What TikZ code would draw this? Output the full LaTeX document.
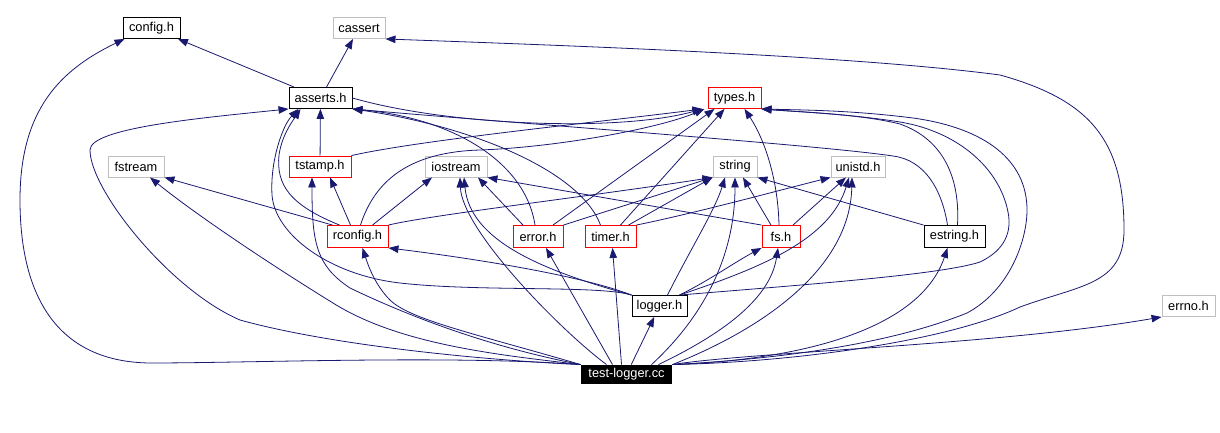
\documentclass[tikz,border=0pt]{standalone}
\usepackage{fontspec}
\setmainfont{Liberation Sans}
\usetikzlibrary{arrows.meta,calc}
\definecolor{edgec}{HTML}{191970}
\definecolor{grayb}{HTML}{BFBFBF}
\begin{document}
\begin{tikzpicture}[x=1pt,y=-1pt,
  bx/.style={rectangle, inner sep=0pt, minimum height=21pt, line width=0.9pt, fill=white, font=\fontsize{12.8}{14}\selectfont},
  blk/.style={bx, draw=black},
  rd/.style={bx, draw=red},
  gr/.style={bx, draw=grayb},
  e/.style={draw=edgec, line width=0.8pt, -{Triangle[length=10pt,width=7.5pt]}}]
\useasboundingbox (0,0) rectangle (1220,432);
% nodes
\node[blk, minimum width=57pt] (config) at (151.5,28) {config.h};
\node[gr, minimum width=52pt] (cassert) at (359,28) {cassert};
\node[blk, minimum width=63pt] (asserts) at (320.5,98) {asserts.h};
\node[rd, minimum width=53pt] (types) at (734.5,98) {types.h};
\node[gr, minimum width=56pt] (fstream) at (136,166.5) {fstream};
\node[rd, minimum width=62pt] (tstamp) at (320,166.5) {tstamp.h};
\node[gr, minimum width=62pt] (iostream) at (456,166.5) {iostream};
\node[gr, minimum width=44pt] (string) at (735,166.5) {string};
\node[gr, minimum width=54pt] (unistd) at (858,166.5) {unistd.h};
\node[rd, minimum width=61pt, minimum height=22pt] (rconfig) at (357.5,236.5) {rconfig.h};
\node[rd, minimum width=50pt, minimum height=22pt] (error) at (538,236.5) {error.h};
\node[rd, minimum width=51pt, minimum height=22pt] (timer) at (610.5,236.5) {timer.h};
\node[rd, minimum width=38pt, minimum height=22pt] (fs) at (781,236.5) {fs.h};
\node[blk, minimum width=61pt, minimum height=22pt] (estring) at (954.5,236.5) {estring.h};
\node[blk, minimum width=55pt] (logger) at (659.5,306) {logger.h};
\node[gr, minimum width=53pt] (errno) at (1188.5,306) {errno.h};
\node[bx, fill=black, text=white, minimum width=91pt, minimum height=19pt] (test) at (626.5,374.5) {test-logger.cc};

% asserts
\draw[e] (asserts) -- (config);
\draw[e] (asserts) -- (cassert);
\draw[e] (asserts.east) .. controls (450,126) and (620,132) .. ([xshift=-32pt]types.south);
% tstamp
\draw[e] (tstamp) -- (asserts);
\draw[e] (tstamp.north east) .. controls (420,140) and (600,122) .. ([xshift=-32pt]types.south);
% rconfig
\draw[e] ([xshift=-18pt]rconfig.north) .. controls (290,205) and (276,185) .. (279,155) .. controls (282,135) and (292,122) .. ([xshift=-20pt]asserts.south);
\draw[e] ([xshift=3pt]rconfig.north) .. controls (375,180) and (410,152) .. (480,150) .. controls (560,147) and (660,128) .. ([xshift=-30pt]types.south);
\draw[e] ([xshift=-25pt]rconfig.north) -- (fstream.south east);
\draw[e] ([xshift=-7pt]rconfig.north) -- ([xshift=10pt]tstamp.south);
\draw[e] ([xshift=15pt]rconfig.north) -- ([xshift=-24pt]iostream.south);
\draw[e] (rconfig.north east) .. controls (430,215) and (600,195) .. (string.south west);
% error
\draw[e] ([xshift=-3pt]error.north) .. controls (525,160) and (450,118) .. (asserts.south east);
\draw[e] ([xshift=15pt]error.north) -- ([xshift=-20pt]types.south);
\draw[e] ([xshift=-15pt]error.north) -- ([xshift=22pt]iostream.south);
\draw[e] (error.north east) -- (string.south west);
% timer
\draw[e] ([xshift=-10pt]timer.north) .. controls (580,170) and (470,126) .. (asserts.south east);
\draw[e] ([xshift=10pt]timer.north) -- ([xshift=-10pt]types.south);
\draw[e] ([xshift=18pt]timer.north) -- (string.south west);
\draw[e] (timer.north east) .. controls (700,212) and (780,190) .. (unistd.south west);
% fs
\draw[e] ([xshift=-2pt]fs.north) .. controls (778,180) and (765,140) .. ([xshift=10pt]types.south);
\draw[e] (fs.north west) -- (iostream.south east);
\draw[e] ([xshift=-10pt]fs.north) -- ([xshift=8pt]string.south);
\draw[e] ([xshift=12pt]fs.north) -- ([xshift=-12pt]unistd.south);
% estring
\draw[e] ([xshift=-7pt]estring.north) .. controls (942,190) and (925,160) .. (893,156) .. controls (820,145) and (500,122) .. (asserts.south east);
\draw[e] ([xshift=3pt]estring.north) .. controls (960,180) and (945,140) .. (900,124) .. controls (860,114) and (800,112) .. (types.south east);
\draw[e] (estring.north west) -- (string.south east);
% logger
\draw[e] (logger.north west) .. controls (600,285) and (480,292) .. (400,283) .. controls (330,275) and (275,235) .. (272,195) .. controls (270,160) and (283,125) .. ([xshift=-22pt]asserts.south);
\draw[e] ([xshift=20pt]logger.north) .. controls (800,285) and (940,275) .. (980,262) .. controls (1005,250) and (1012,232) .. (1008,212) .. controls (1000,170) and (960,132) .. (900,122) .. controls (850,114) and (800,112) .. (types.south east);
\draw[e] (logger.north west) .. controls (580,275) and (470,258) .. (rconfig.south east);
\draw[e] (logger.north west) .. controls (540,270) and (470,240) .. ([xshift=8pt]iostream.south);
\draw[e] ([xshift=8pt]logger.north) .. controls (690,250) and (715,210) .. ([xshift=-10pt]string.south);
\draw[e] ([xshift=20pt]logger.north) .. controls (760,268) and (830,240) .. ([xshift=-9pt]unistd.south);
\draw[e] ([xshift=20pt]logger.north) .. controls (710,280) and (735,262) .. (fs.south west);
% test-logger
\draw[e] (test.north west) .. controls (450,355) and (250,363) .. (150,363) .. controls (60,362) and (20,300) .. (20,200) .. controls (20,110) and (60,70) .. ([xshift=-27pt]config.south);
\draw[e] (test.north east) .. controls (800,362) and (950,340) .. (1020,307) .. controls (1080,285) and (1124,285) .. (1124,230) .. controls (1124,140) and (1090,100) .. (1000,75) .. controls (850,55) and (550,45) .. (cassert.south east);
\draw[e] (test.north east) .. controls (750,352) and (1000,345) .. (errno.south west);
\draw[e] (test) -- (logger);
\draw[e] (test.north west) .. controls (480,360) and (330,345) .. (240,320) .. controls (170,290) and (90,190) .. (90,150) .. controls (90,128) and (200,118) .. (asserts.south west);
\draw[e] (test.north east) .. controls (800,358) and (900,340) .. (967,313) .. controls (1010,290) and (1027,240) .. (1027,210) .. controls (1027,160) and (985,128) .. (913,118) .. controls (850,110) and (800,110) .. (types.south east);
\draw[e] (test.north west) .. controls (500,355) and (400,345) .. (333,303) .. controls (260,258) and (190,210) .. ([xshift=14pt]fstream.south);
\draw[e] (test.north west) .. controls (480,345) and (400,312) .. (350,288) .. controls (315,265) and (312,240) .. ([xshift=-8pt]tstamp.south);
\draw[e] (test.north west) .. controls (480,335) and (410,320) .. (390,300) .. controls (375,285) and (368,265) .. ([xshift=5pt]rconfig.south);
\draw[e] ([xshift=-20pt]test.north) .. controls (560,330) and (462,230) .. ([xshift=4pt]iostream.south);
\draw[e] ([xshift=-14pt]test.north) -- ([xshift=8pt]error.south);
\draw[e] ([xshift=-5pt]test.north) -- ([xshift=2pt]timer.south);
\draw[e] ([xshift=25pt]test.north) .. controls (700,320) and (735,260) .. (string.south);
\draw[e] ([xshift=32pt]test.north) .. controls (720,335) and (770,300) .. ([xshift=-3pt]fs.south);
\draw[e] (test.north east) .. controls (760,330) and (850,270) .. ([xshift=-6pt]unistd.south);
\draw[e] (test.north east) .. controls (800,360) and (920,330) .. ([xshift=-7pt]estring.south);
\end{tikzpicture}
\end{document}
